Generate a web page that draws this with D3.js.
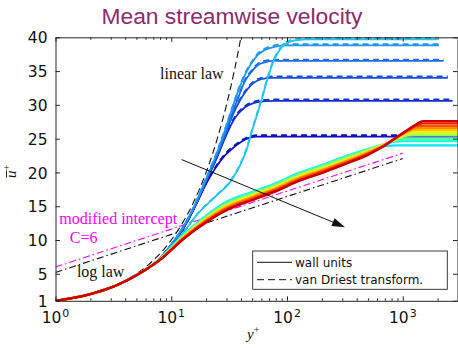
<!DOCTYPE html>
<html>
<head>
<meta charset="utf-8">
<script src="https://cdn.jsdelivr.net/npm/d3@7"></script>
<style>
  body { margin: 0; background: #fff; }
  svg { display: block; }
</style>
</head>
<body>
<svg id="chart" width="458" height="348"></svg>
<script>
// ---- axis ticks ----
const xTicks = [1, 10, 100, 1000];
const xTickExp = ["0", "1", "2", "3"];
const yTicks = [1, 5, 10, 15, 20, 25, 30, 35, 40];

// ---- reference laws ----
const linearLawY = [1, 2, 4, 7, 10, 15, 20, 25, 30, 35, 40];
const linearLawU = [1, 2, 4, 7, 10, 15, 20, 25, 30, 35, 40];
const logLawY = [1, 1000];
const logLawU = [5.2, 22.05];
const modLawY = [1, 1000];
const modLawU = [6.0, 22.85];

// ---- high-speed cases (blue family): wall units and van Driest ----
const blueNames = ["B1", "B2", "B3", "B4", "B5", "B6"];
const blueColors = ["#1010bf", "#1430cf", "#1850dc", "#1c6ee6", "#2096f0", "#22c4f0"];
const blueY = [
  [1, 1.5, 2, 3, 4, 5, 6, 7, 8, 10, 12, 15, 17, 20, 24, 28, 33, 40, 47, 55, 70, 3000],
  [1, 1.5, 2, 3, 4, 5, 6, 7, 8, 10, 12, 15, 17, 20, 25, 29, 35, 43, 52, 65, 80, 2700],
  [1, 1.5, 2, 3, 4, 5, 6, 7, 8, 10, 12, 15, 17, 20, 25, 28, 33, 40, 46, 52, 60, 75, 2450],
  [1, 1.5, 2, 3, 4, 5, 6, 7, 8, 10, 12, 15, 17, 20, 25, 28, 33, 38, 43, 50, 56, 64, 78, 2250],
  [1, 1.5, 2, 3, 4, 5, 6, 7, 8, 10, 12, 15, 17, 20, 25, 28, 33, 38, 45, 50, 56, 64, 78, 100, 2050],
  [1, 1.5, 2, 3, 4, 5, 6, 7, 8, 10, 13, 17, 24, 33, 40, 45, 49, 55, 60, 68, 78, 90, 105, 125, 150, 1980]
];
const blueU = [
  [1, 1.5, 2.0, 2.95, 3.9, 4.8, 5.6, 6.4, 7.3, 9.2, 11.0, 13.9, 15.8, 18.3, 20.6, 22.2, 23.4, 24.5, 25.1, 25.3, 25.3, 25.3],
  [1, 1.5, 2.0, 2.95, 3.9, 4.8, 5.6, 6.4, 7.3, 9.3, 11.1, 14.0, 15.9, 18.6, 22.3, 25.0, 27.9, 29.6, 30.3, 30.55, 30.6, 30.6],
  [1, 1.5, 2.0, 2.95, 3.9, 4.8, 5.6, 6.4, 7.3, 9.3, 11.2, 14.1, 16.0, 18.8, 22.6, 24.6, 28.0, 30.9, 32.4, 33.3, 33.8, 34.0, 34.0],
  [1, 1.5, 2.0, 2.95, 3.9, 4.8, 5.6, 6.4, 7.3, 9.3, 11.2, 14.1, 16.1, 18.9, 22.8, 24.9, 28.3, 31.1, 33.4, 35.0, 35.9, 36.3, 36.5, 36.5],
  [1, 1.5, 2.0, 2.95, 3.9, 4.8, 5.6, 6.4, 7.3, 9.3, 11.3, 14.2, 16.2, 19.0, 23.0, 25.4, 29.0, 32.1, 35.0, 36.3, 37.4, 38.1, 38.6, 38.8, 38.8],
  [1, 1.5, 2.0, 2.95, 3.9, 4.8, 5.6, 6.35, 7.15, 8.9, 11.3, 13.9, 16.4, 18.8, 21.3, 23.5, 25.7, 28.5, 30.6, 33.9, 36.8, 38.5, 39.3, 39.6, 39.7, 39.7]
];
const blueUvd = [
  [1, 1.5, 2.0, 2.95, 3.9, 4.8, 5.6, 6.4, 7.3, 9.2, 11.0, 13.95, 15.9, 18.4, 20.75, 22.4, 23.6, 24.7, 25.3, 25.5, 25.5, 25.5],
  [1, 1.5, 2.0, 2.95, 3.9, 4.8, 5.6, 6.4, 7.3, 9.3, 11.1, 14.05, 16.0, 18.75, 22.5, 25.2, 28.1, 29.8, 30.5, 30.75, 30.8, 30.8],
  [1, 1.5, 2.0, 2.95, 3.9, 4.8, 5.6, 6.4, 7.3, 9.3, 11.2, 14.15, 16.1, 18.95, 22.8, 24.8, 28.2, 31.1, 32.6, 33.5, 34.0, 34.2, 34.2],
  [1, 1.5, 2.0, 2.95, 3.9, 4.8, 5.6, 6.4, 7.3, 9.3, 11.2, 14.15, 16.2, 19.05, 23.0, 25.1, 28.5, 31.3, 33.6, 35.2, 36.1, 36.5, 36.7, 36.7],
  [1, 1.5, 2.0, 2.95, 3.9, 4.8, 5.6, 6.4, 7.3, 9.3, 11.3, 14.25, 16.3, 19.15, 23.2, 25.6, 29.2, 32.3, 35.2, 36.5, 37.6, 38.3, 38.8, 39.0, 39.0],
  [1, 1.5, 2.0, 2.95, 3.9, 4.8, 5.6, 6.35, 7.15, 8.9, 11.3, 13.95, 16.5, 18.95, 21.5, 23.7, 25.9, 28.7, 30.8, 34.1, 37.0, 38.7, 39.5, 39.8, 39.9, 39.9]
];

// ---- low-speed cases (rainbow family), shared y+ stations ----
const rainbowY = [1, 1.5, 2, 3, 4, 5, 6, 7, 8, 10, 12, 15, 20, 30, 50, 80, 130, 200, 350, 500, 700, 900, 1100, 1300, 1500, 3000];
const rainbowColors = ["#00e6ff", "#1effd8", "#48ffaa", "#80ff70", "#b8ff40", "#f2f000", "#ffc000", "#ff8c00", "#ff5000", "#ee1800", "#c80000"];
const rainbowU = [
  [1, 1.5, 2.0, 2.95, 3.9, 4.8, 5.6, 6.35, 7.2, 8.88, 10.31, 11.85, 13.6, 15.65, 17.1, 18.4, 20.0, 21.1, 22.6, 23.4, 23.9, 24.0, 24.0, 24.0, 24.0, 24.0],
  [1, 1.5, 2.0, 2.95, 3.9, 4.8, 5.6, 6.35, 7.19, 8.85, 10.27, 11.79, 13.52, 15.55, 17.05, 18.35, 19.95, 21.05, 22.55, 23.45, 24.2, 24.6, 24.65, 24.65, 24.65, 24.65],
  [1, 1.5, 2.0, 2.95, 3.9, 4.8, 5.6, 6.35, 7.18, 8.82, 10.22, 11.73, 13.44, 15.45, 16.95, 18.25, 19.85, 20.95, 22.5, 23.4, 24.2, 24.8, 24.95, 24.95, 24.95, 24.95],
  [1, 1.5, 2.0, 2.95, 3.9, 4.8, 5.6, 6.35, 7.16, 8.77, 10.16, 11.64, 13.32, 15.3, 16.8, 18.1, 19.7, 20.8, 22.35, 23.3, 24.2, 25.0, 25.45, 25.5, 25.5, 25.5],
  [1, 1.5, 2.0, 2.95, 3.9, 4.8, 5.6, 6.35, 7.15, 8.74, 10.11, 11.58, 13.24, 15.2, 16.7, 18.0, 19.6, 20.7, 22.25, 23.25, 24.2, 25.05, 25.6, 25.7, 25.7, 25.7],
  [1, 1.5, 2.0, 2.95, 3.9, 4.8, 5.6, 6.35, 7.13, 8.7, 10.04, 11.49, 13.12, 15.05, 16.55, 17.85, 19.45, 20.55, 22.1, 23.1, 24.15, 25.1, 25.8, 26.0, 26.0, 26.0],
  [1, 1.5, 2.0, 2.95, 3.9, 4.8, 5.6, 6.35, 7.11, 8.65, 9.98, 11.4, 13.0, 14.9, 16.4, 17.7, 19.3, 20.4, 21.95, 23.0, 24.1, 25.15, 25.95, 26.3, 26.3, 26.3],
  [1, 1.5, 2.0, 2.95, 3.9, 4.8, 5.6, 6.35, 7.1, 8.62, 9.93, 11.34, 12.92, 14.8, 16.3, 17.6, 19.2, 20.3, 21.85, 22.9, 24.1, 25.2, 26.1, 26.55, 26.6, 26.6],
  [1, 1.5, 2.0, 2.95, 3.9, 4.8, 5.6, 6.35, 7.08, 8.58, 9.86, 11.25, 12.8, 14.65, 16.15, 17.45, 19.05, 20.15, 21.7, 22.8, 24.05, 25.25, 26.2, 26.8, 26.9, 26.9],
  [1, 1.5, 2.0, 2.95, 3.9, 4.8, 5.6, 6.35, 7.06, 8.54, 9.8, 11.17, 12.7, 14.52, 16.0, 17.3, 18.9, 20.0, 21.6, 22.7, 24.0, 25.3, 26.25, 27.0, 27.25, 27.25],
  [1, 1.5, 2.0, 2.95, 3.9, 4.8, 5.6, 6.35, 7.05, 8.5, 9.75, 11.1, 12.6, 14.4, 15.9, 17.2, 18.8, 19.9, 21.5, 22.6, 24.0, 25.3, 26.3, 27.1, 27.6, 27.6]
];

// ---- annotations (data coordinates) ----
const arrowFrom = [12.3, 21.9];
const arrowTo = [317, 11.9];
const labels = [
  { text: "linear law", at: [8.0, 33.9], color: "#111" },
  { text: "modified intercept", at: [1.08, 12.35], color: "#ff00ff" },
  { text: "C=6", at: [1.33, 9.55], color: "#ff00ff" },
  { text: "log law", at: [1.53, 4.5], color: "#111" }
];
const legendItems = [
  { text: "wall units", dash: null },
  { text: "van Driest transform.", dash: "7,4" }
];

// ---- layout ----
const svg = d3.select("#chart");
const axisColor = "#262626";
const x = d3.scaleLog().domain([1, 3000]).range([55.5, 458]);
const y = d3.scaleLinear().domain([1, 40]).range([300.8, 37.3]);

svg.append("text")
  .attr("x", 232).attr("y", 24)
  .attr("text-anchor", "middle")
  .attr("font-family", "Liberation Sans, Arial, sans-serif")
  .attr("font-size", 22.8)
  .attr("fill", "#8c2a6e")
  .text("Mean streamwise velocity");

svg.append("defs").append("clipPath").attr("id", "plotClip")
  .append("rect").attr("x", 55.5).attr("y", 35).attr("width", 403).attr("height", 266);

const plot = svg.append("g").attr("clip-path", "url(#plotClip)");

const line = d3.line().x(d => x(d[0])).y(d => y(d[1])).curve(d3.curveMonotoneX);
const zip = (a, b) => a.map((v, i) => [v, b[i]]);

// reference laws
plot.append("path").datum(zip(linearLawY, linearLawU))
  .attr("d", line).attr("fill", "none").attr("stroke", "#111")
  .attr("stroke-width", 1.1).attr("stroke-dasharray", "7,4");
plot.append("path").datum(zip(logLawY, logLawU))
  .attr("d", line).attr("fill", "none").attr("stroke", "#111")
  .attr("stroke-width", 1.1).attr("stroke-dasharray", "7,3,1.5,3");
plot.append("path").datum(zip(modLawY, modLawU))
  .attr("d", line).attr("fill", "none").attr("stroke", "#ff00ff")
  .attr("stroke-width", 1.1).attr("stroke-dasharray", "7,3,1.5,3");

// blue family: dashed (van Driest) then solid (wall units)
blueNames.forEach((name, i) => {
  plot.append("path").datum(zip(blueY[i], blueUvd[i]))
    .attr("class", "vd " + name)
    .attr("d", line).attr("fill", "none").attr("stroke", blueColors[i])
    .attr("stroke-width", 1.8).attr("stroke-dasharray", "6,4");
  plot.append("path").datum(zip(blueY[i], blueU[i]))
    .attr("class", "wall " + name)
    .attr("d", line).attr("fill", "none").attr("stroke", blueColors[i])
    .attr("stroke-width", 1.8);
});

// rainbow family, cool to warm
rainbowU.forEach((us, i) => {
  plot.append("path").datum(zip(rainbowY, us))
    .attr("d", line).attr("fill", "none").attr("stroke", rainbowColors[i])
    .attr("stroke-width", 2.3).attr("stroke-linejoin", "round");
});

// trend arrow
const ax0 = x(arrowFrom[0]), ay0 = y(arrowFrom[1]);
const ax1 = x(arrowTo[0]), ay1 = y(arrowTo[1]);
const ang = Math.atan2(ay1 - ay0, ax1 - ax0);
const headL = 13, headW = 4.2;
const bx = ax1 - headL * Math.cos(ang), by = ay1 - headL * Math.sin(ang);
svg.append("line")
  .attr("x1", ax0).attr("y1", ay0).attr("x2", bx).attr("y2", by)
  .attr("stroke", "#111").attr("stroke-width", 1);
svg.append("path")
  .attr("d", `M${ax1},${ay1}L${bx - headW * Math.sin(ang)},${by + headW * Math.cos(ang)}L${bx + headW * Math.sin(ang)},${by - headW * Math.cos(ang)}Z`)
  .attr("fill", "#111");

// text annotations
labels.forEach(l => {
  svg.append("text")
    .attr("x", x(l.at[0])).attr("y", y(l.at[1]))
    .attr("font-family", "Liberation Serif, Times New Roman, serif")
    .attr("font-size", 16)
    .attr("fill", l.color)
    .text(l.text);
});

// ---- axes (ticks inside, boxed) ----
const minorX = [];
[1, 10, 100, 1000].forEach(d => { for (let k = 2; k <= 9; k++) if (d * k <= 3000) minorX.push(d * k); });

function styleAxis(g) {
  g.selectAll("path.domain").attr("stroke", axisColor).attr("stroke-width", 1);
  g.selectAll(".tick line").attr("stroke", axisColor).attr("stroke-width", 1);
}

const gBottom = svg.append("g").attr("transform", "translate(0,300.8)")
  .call(d3.axisBottom(x).tickValues(xTicks).tickSizeInner(-4.5).tickSizeOuter(0).tickPadding(11).tickFormat(""));
styleAxis(gBottom);
svg.append("g").attr("transform", "translate(0,300.8)")
  .call(d3.axisBottom(x).tickValues(minorX).tickSizeInner(-2.5).tickSizeOuter(0).tickFormat(""))
  .call(g => g.select(".domain").remove()).call(styleAxis);
const gTop = svg.append("g").attr("transform", "translate(0,37.3)")
  .call(d3.axisTop(x).tickValues(xTicks).tickSizeInner(-4.5).tickSizeOuter(0).tickFormat(""));
styleAxis(gTop);
svg.append("g").attr("transform", "translate(0,37.3)")
  .call(d3.axisTop(x).tickValues(minorX).tickSizeInner(-2.5).tickSizeOuter(0).tickFormat(""))
  .call(g => g.select(".domain").remove()).call(styleAxis);

const gLeft = svg.append("g").attr("transform", "translate(55.5,0)")
  .call(d3.axisLeft(y).tickValues(yTicks).tickSizeInner(-4.5).tickSizeOuter(0).tickPadding(8).tickFormat(d3.format("d")));
styleAxis(gLeft);
gLeft.selectAll(".tick text")
  .attr("font-family", "DejaVu Sans, sans-serif").attr("font-size", 15.5)
  .attr("fill", "#111").attr("dy", "0.36em");
gLeft.attr("font-family", null).attr("font-size", null);

const gRight = svg.append("g").attr("transform", "translate(457.5,0)")
  .call(d3.axisRight(y).tickValues(yTicks).tickSizeInner(-4.5).tickSizeOuter(0).tickFormat(""));
styleAxis(gRight);

// x tick labels as powers of ten
xTicks.forEach((v, i) => {
  const t = svg.append("text")
    .attr("x", x(v)).attr("y", 323.3)
    .attr("text-anchor", "middle")
    .attr("font-family", "DejaVu Sans, sans-serif")
    .attr("font-size", 15.5)
    .attr("fill", "#111");
  t.append("tspan").text("10");
  t.append("tspan").attr("dx", 1).attr("dy", -6).attr("font-size", 11).text(xTickExp[i]);
});

// axis titles
const xl = svg.append("text")
  .attr("x", 247).attr("y", 339)
  .attr("font-family", "Liberation Serif, Times New Roman, serif")
  .attr("font-style", "italic").attr("font-size", 15).attr("fill", "#111");
xl.append("tspan").text("y");
xl.append("tspan").attr("dy", -6).attr("font-size", 10).attr("font-style", "normal").text("+");

const yl = svg.append("g").attr("transform", "translate(15.5,178) rotate(-90)");
yl.append("text")
  .attr("x", 0).attr("y", 0)
  .attr("font-family", "Liberation Serif, Times New Roman, serif")
  .attr("font-style", "italic").attr("font-size", 15).attr("fill", "#111")
  .call(t => {
    t.append("tspan").text("u");
    t.append("tspan").attr("dy", -6).attr("font-size", 10).attr("font-style", "normal").text("+");
  });
yl.append("line").attr("x1", 0.5).attr("x2", 7.5).attr("y1", -9).attr("y2", -9)
  .attr("stroke", "#111").attr("stroke-width", 0.9);

// legend
const lg = svg.append("g");
lg.append("rect").attr("x", 252.7).attr("y", 251).attr("width", 194.6).attr("height", 38.3)
  .attr("fill", "#fff").attr("stroke", axisColor).attr("stroke-width", 0.9);
legendItems.forEach((it, i) => {
  const cy = 262.3 + i * 17.4;
  lg.append("line").attr("x1", 257).attr("x2", 292).attr("y1", cy).attr("y2", cy)
    .attr("stroke", "#111").attr("stroke-width", 1)
    .attr("stroke-dasharray", it.dash);
  lg.append("text").attr("x", 295).attr("y", cy + 4.3)
    .attr("font-family", "DejaVu Sans, sans-serif").attr("font-size", 12)
    .attr("fill", "#111").text(it.text);
});
</script>
</body>
</html>
